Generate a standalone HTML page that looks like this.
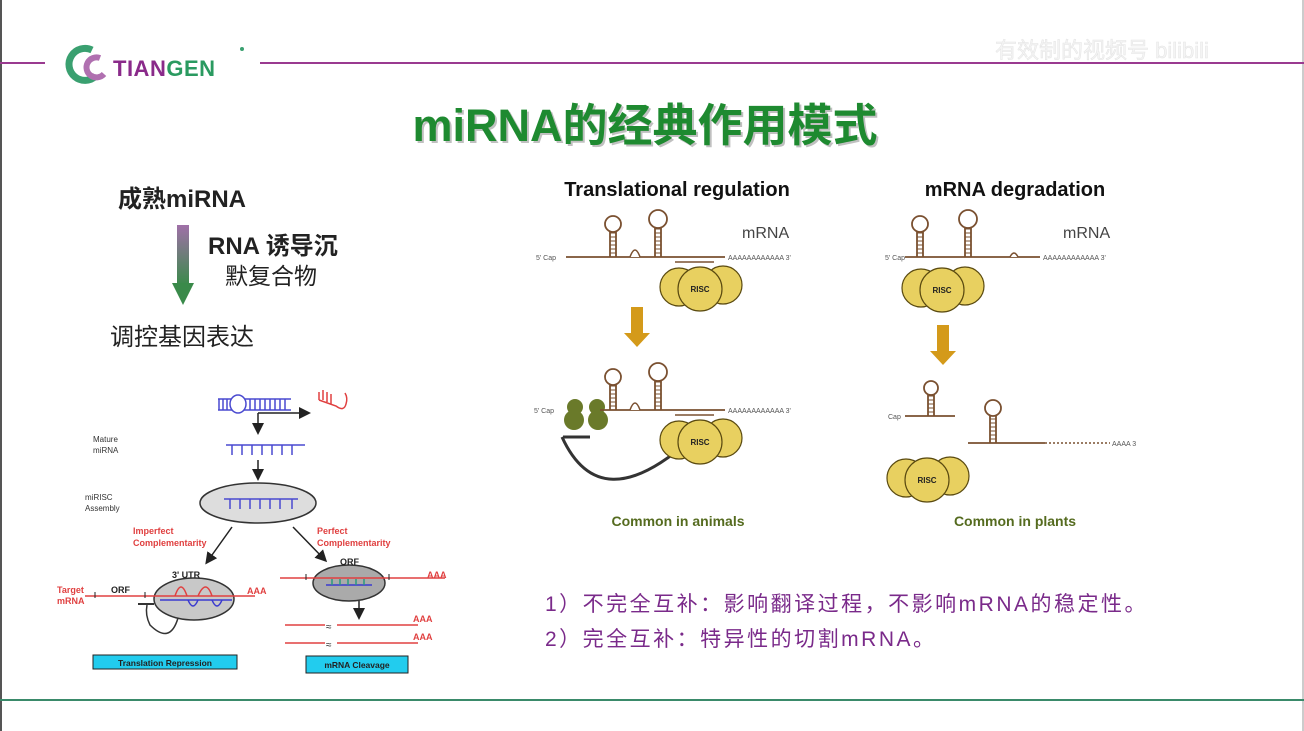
<!DOCTYPE html>
<html><head><meta charset="utf-8"><style>
html,body{margin:0;padding:0;background:#fff;}
#slide{position:relative;width:1304px;height:731px;overflow:hidden;background:#fff;font-family:"Liberation Sans","Noto Sans CJK SC",sans-serif;}
svg{position:absolute;left:0;top:0;}
.cn{font-family:"Liberation Sans","Noto Sans CJK SC",sans-serif;}
</style></head><body>
<div id="slide">
<svg id="s" width="1304" height="731" viewBox="0 0 1304 731">
<defs>
<linearGradient id="ag" x1="0" y1="0" x2="0" y2="1"><stop offset="0" stop-color="#a070a8"/><stop offset="1" stop-color="#3a8a4a"/></linearGradient>
<marker id="ah" markerWidth="8" markerHeight="8" refX="6" refY="4" orient="auto"><path d="M0,0 L8,4 L0,8 z" fill="#222"/></marker>
</defs>
<line x1="1" y1="0" x2="1" y2="731" stroke="#555" stroke-width="2"/>
<line x1="1303" y1="0" x2="1303" y2="731" stroke="#999" stroke-width="1"/>
<line x1="0" y1="63" x2="45" y2="63" stroke="#9a3a90" stroke-width="2"/>
<line x1="260" y1="63" x2="1304" y2="63" stroke="#9a3a90" stroke-width="2"/>
<g>
<path d="M92,50 A16,16 0 1,0 96,76" fill="none" stroke="#3aa070" stroke-width="7"/>
<path d="M100,58 A10,10 0 1,0 104,74" fill="none" stroke="#b070b0" stroke-width="6"/>
<text x="113" y="76" font-size="22" font-weight="bold" fill="#8a2a8a" letter-spacing="0.5">TIAN<tspan fill="#2a9a60">GEN</tspan></text>
<circle cx="242" cy="49" r="2" fill="#3aa070"/>
</g>
<text x="995" y="58" font-size="22" fill="#f4f4f4" stroke="#e4e4e4" stroke-width="0.5" class="cn">有效制的视频号 bilibili</text>
<text x="645" y="141" text-anchor="middle" font-size="45" font-weight="bold" fill="#0a0a0a" opacity="0.25" class="cn" transform="translate(2,2)">miRNA的经典作用模式</text>
<text x="645" y="141" text-anchor="middle" font-size="45" font-weight="bold" fill="#1e8a30" class="cn">miRNA的经典作用模式</text>
<text x="118" y="207" font-size="24" font-weight="bold" fill="#222" class="cn">成熟miRNA</text>
<g><rect x="177" y="225" width="12" height="60" fill="url(#ag)"/><path d="M172,283 L194,283 L183,305 z" fill="#3a8a4a"/></g>
<text x="208" y="254" font-size="24" font-weight="bold" fill="#222" class="cn">RNA 诱导沉</text>
<text x="225" y="284" font-size="23" fill="#222" class="cn">默复合物</text>
<text x="110" y="345" font-size="24" fill="#222" class="cn">调控基因表达</text>
<g>
<g stroke="#4a4ad0" stroke-width="1.5" fill="none">
<line x1="218" y1="399" x2="291" y2="399"/><line x1="218" y1="410" x2="291" y2="410"/>
<path d="M219,399 v11 M223,399 v11 M227,399 v11 M250,399 v11 M255,399 v11 M260,399 v11 M265,399 v11 M270,399 v11 M275,399 v11 M280,399 v11 M285,399 v11"/>
<ellipse cx="238" cy="404" rx="8" ry="9" fill="#fff"/>
<line x1="226" y1="445" x2="305" y2="445"/>
<path d="M232,445 v10 M242,445 v10 M252,445 v10 M262,445 v10 M272,445 v10 M282,445 v10 M292,445 v10"/>
</g>
<path d="M319,400 v-8 M323,400 v-10 M327,402 v-10 M331,404 v-10 M319,400 L336,406 Q344,412 346,404 Q348,398 345,393" stroke="#e04040" fill="none" stroke-width="1.5"/>
<path d="M258,413 H308" stroke="#222" stroke-width="1.5" fill="none" marker-end="url(#ah)"/>
<line x1="258" y1="413" x2="258" y2="432" stroke="#222" stroke-width="1.5" marker-end="url(#ah)"/>
<line x1="258" y1="460" x2="258" y2="478" stroke="#222" stroke-width="1.5" marker-end="url(#ah)"/>
<text x="93" y="442" font-size="8" fill="#333">Mature</text><text x="93" y="453" font-size="8" fill="#333">miRNA</text>
<text x="85" y="500" font-size="8" fill="#333">miRISC</text><text x="85" y="511" font-size="8" fill="#333">Assembly</text>
<ellipse cx="258" cy="503" rx="58" ry="20" fill="#ddd" stroke="#333" stroke-width="1.5"/>
<line x1="224" y1="499" x2="298" y2="499" stroke="#4a4ad0" stroke-width="1.5"/>
<path d="M230,499 v10 M240,499 v10 M250,499 v10 M260,499 v10 M270,499 v10 M280,499 v10 M292,499 v10" stroke="#4a4ad0" stroke-width="1.5"/>
<text x="133" y="534" font-size="9" font-weight="bold" fill="#e04040">Imperfect</text><text x="133" y="546" font-size="9" font-weight="bold" fill="#e04040">Complementarity</text>
<text x="317" y="534" font-size="9" font-weight="bold" fill="#e04040">Perfect</text><text x="317" y="546" font-size="9" font-weight="bold" fill="#e04040">Complementarity</text>
<line x1="232" y1="527" x2="207" y2="562" stroke="#222" stroke-width="1.5" marker-end="url(#ah)"/>
<line x1="293" y1="527" x2="325" y2="560" stroke="#222" stroke-width="1.5" marker-end="url(#ah)"/>
<text x="172" y="578" font-size="9" font-weight="bold" fill="#222">3' UTR</text>
<text x="111" y="593" font-size="9" font-weight="bold" fill="#222">ORF</text>
<text x="57" y="593" font-size="9" font-weight="bold" fill="#e04040">Target</text><text x="57" y="604" font-size="9" font-weight="bold" fill="#e04040">mRNA</text>
<ellipse cx="194" cy="599" rx="40" ry="21" fill="#c8c8c8" stroke="#333" stroke-width="1.5"/>
<line x1="85" y1="596" x2="255" y2="596" stroke="#e04040" stroke-width="1.5"/>
<path d="M95,592 v6 M145,592 v6" stroke="#222"/>
<path d="M175,596 q6,-18 12,0 M198,596 q8,-18 14,0" stroke="#e04040" fill="none" stroke-width="1.5"/>
<line x1="160" y1="600" x2="232" y2="600" stroke="#3a3ad0" stroke-width="1.5"/>
<path d="M188,600 q5,12 10,0 M212,600 q5,12 10,0" stroke="#3a3ad0" fill="none" stroke-width="1.5"/>
<text x="247" y="594" font-size="9" font-weight="bold" fill="#e04040">AAA</text>
<path d="M178,618 Q170,645 150,625 Q145,615 147,605" stroke="#333" fill="none" stroke-width="1.5"/>
<line x1="138" y1="604" x2="154" y2="604" stroke="#333" stroke-width="2"/>
<ellipse cx="349" cy="583" rx="36" ry="18" fill="#aaa" stroke="#333" stroke-width="1.5"/>
<line x1="280" y1="578" x2="445" y2="578" stroke="#e04040" stroke-width="1.5"/>
<path d="M306,574 v6 M389,574 v6" stroke="#222"/>
<line x1="326" y1="585" x2="372" y2="585" stroke="#3a3ad0" stroke-width="1.5"/>
<path d="M332,579 v6 M340,579 v6 M348,579 v6 M356,579 v6 M364,579 v6" stroke="#2a9a80" stroke-width="1.5"/>
<text x="340" y="565" font-size="9" font-weight="bold" fill="#222">ORF</text>
<text x="427" y="578" font-size="9" font-weight="bold" fill="#e04040">AAA</text>
<line x1="359" y1="601" x2="359" y2="617" stroke="#222" stroke-width="1.5" marker-end="url(#ah)"/>
<line x1="285" y1="625" x2="418" y2="625" stroke="#e04040" stroke-width="1.5"/><line x1="285" y1="643" x2="418" y2="643" stroke="#e04040" stroke-width="1.5"/>
<rect x="325" y="618" width="12" height="30" fill="#fff"/>
<text x="326" y="630" font-size="10" fill="#222">≈</text><text x="326" y="648" font-size="10" fill="#222">≈</text>
<text x="413" y="622" font-size="9" font-weight="bold" fill="#e04040">AAA</text><text x="413" y="640" font-size="9" font-weight="bold" fill="#e04040">AAA</text>
<rect x="93" y="655" width="144" height="14" fill="#22ccee" stroke="#222"/>
<text x="165" y="666" text-anchor="middle" font-size="8.5" font-weight="bold" fill="#222">Translation Repression</text>
<rect x="306" y="656" width="102" height="17" fill="#22ccee" stroke="#222"/>
<text x="357" y="668" text-anchor="middle" font-size="8.5" font-weight="bold" fill="#222">mRNA Cleavage</text>
</g>
<g id="rd">
<text x="677" y="196" text-anchor="middle" font-size="20" font-weight="bold" fill="#111">Translational regulation</text>
<text x="1015" y="196" text-anchor="middle" font-size="20" font-weight="bold" fill="#111">mRNA degradation</text>
<text x="742" y="238" font-size="16" fill="#444">mRNA</text><text x="1063" y="238" font-size="16" fill="#444">mRNA</text>
<text x="678" y="526" text-anchor="middle" font-size="14" font-weight="bold" fill="#556b1f">Common in animals</text>
<text x="1015" y="526" text-anchor="middle" font-size="14" font-weight="bold" fill="#556b1f">Common in plants</text>
<path d="M631,307 h12 v26 h7 l-13,14 l-13,-14 h7 z" fill="#d49a1a"/>
<path d="M937,325 h12 v26 h7 l-13,14 l-13,-14 h7 z" fill="#d49a1a"/>
<path d="M562,437 Q600,520 690,440" stroke="#333" stroke-width="3" fill="none"/>
<line x1="563" y1="437" x2="590" y2="437" stroke="#333" stroke-width="3"/>
<g fill="#6a7a2a"><circle cx="575" cy="407" r="8"/><circle cx="597" cy="407" r="8"/><circle cx="574" cy="420" r="10"/><circle cx="598" cy="420" r="10"/></g>
</g>
<text x="545" y="611" font-size="21" letter-spacing="2.5" fill="#7a2a8a" class="cn">1）不完全互补：影响翻译过程，不影响mRNA的稳定性。</text>
<text x="545" y="646" font-size="21" letter-spacing="2.5" fill="#7a2a8a" class="cn">2）完全互补：特异性的切割mRNA。</text>
<line x1="0" y1="700" x2="1304" y2="700" stroke="#3a8a6a" stroke-width="2"/>
</svg>
</div>
<script>
var NS='http://www.w3.org/2000/svg';
var rd=document.getElementById('rd');
function el(t,a){var e=document.createElementNS(NS,t);for(var k in a)e.setAttribute(k,a[k]);rd.appendChild(e);return e;}
var B='#7a5030';
function hairpin(x,y,h,r){
  el('line',{x1:x-3,y1:y,x2:x-3,y2:y-h,stroke:B,'stroke-width':1.8});
  el('line',{x1:x+3,y1:y,x2:x+3,y2:y-h,stroke:B,'stroke-width':1.8});
  for(var yy=y-4;yy>y-h;yy-=4)el('line',{x1:x-3,y1:yy,x2:x+3,y2:yy,stroke:B,'stroke-width':1});
  el('circle',{cx:x,cy:y-h-r+1,r:r,fill:'#fff',stroke:B,'stroke-width':1.8});
}
function strand(x1,x2,y){el('line',{x1:x1,y1:y,x2:x2,y2:y,stroke:B,'stroke-width':1.8});}
function risc(x,y){
  el('circle',{cx:x-21,cy:y,r:19,fill:'#e8d060',stroke:'#5a4a10','stroke-width':1.2});
  el('circle',{cx:x+23,cy:y-2,r:19,fill:'#e8d060',stroke:'#5a4a10','stroke-width':1.2});
  el('circle',{cx:x,cy:y+2,r:22,fill:'#e8d060',stroke:'#5a4a10','stroke-width':1.2});
  var t=el('text',{x:x,y:y+5,'text-anchor':'middle','font-size':8,'font-weight':'bold',fill:'#222'});t.textContent='RISC';
}
function txt(x,y,s,sz){var t=el('text',{x:x,y:y,'font-size':sz||7,fill:'#555'});t.textContent=s;}
[257,410].forEach(function(y,i){
  strand(i?600:566,725,y);
  hairpin(613,y,26,8); hairpin(658,y,30,9);
  el('path',{d:'M630,'+y+' q5,-14 10,0',fill:'#fff',stroke:B,'stroke-width':1.5});
  el('line',{x1:675,y1:y+5,x2:714,y2:y+5,stroke:B,'stroke-width':1.5});
  txt(728,y+3,'AAAAAAAAAAAA 3\'');
  txt(i?534:536,y+3,'5\' Cap');
  risc(700,y+30);
});
strand(905,1040,257); hairpin(920,257,26,8); hairpin(968,257,30,9);
el('path',{d:'M1010,257 q4,-8 8,0',fill:'#fff',stroke:B,'stroke-width':1.5});
txt(1043,260,'AAAAAAAAAAAA 3\''); txt(885,260,'5\' Cap');
risc(942,288);
strand(905,955,416); hairpin(931,416,22,7); txt(888,419,'Cap');
strand(968,1045,443); hairpin(993,443,28,8);
el('line',{x1:1045,y1:443,x2:1110,y2:443,stroke:B,'stroke-width':1.5,'stroke-dasharray':'2,2'});
txt(1112,446,'AAAA 3');
risc(927,478);
</script>
</body></html>
